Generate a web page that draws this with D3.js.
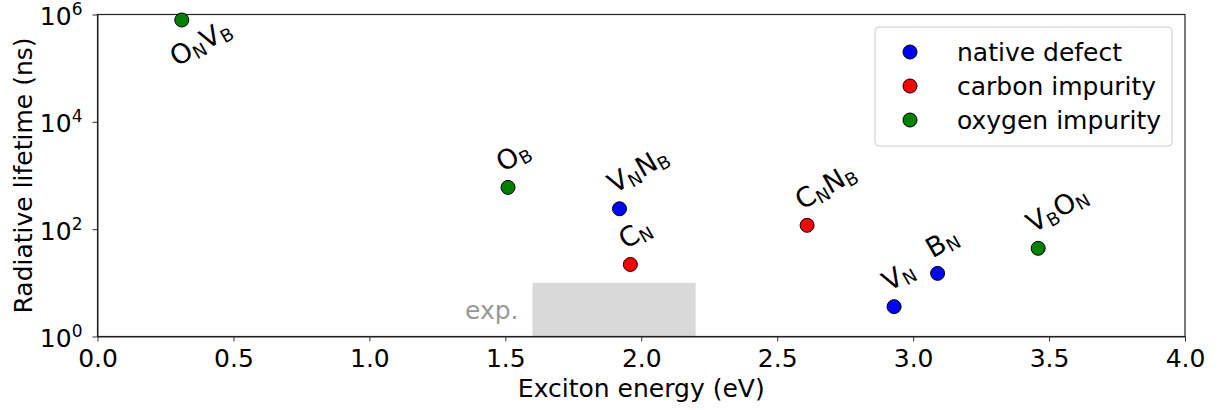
<!DOCTYPE html>
<html lang="en">
<head>
<meta charset="UTF-8">
<title>Radiative lifetime</title>
<script src="https://cdn.jsdelivr.net/npm/d3@7"></script>
<style>
  body { margin: 0; background: #fff; }
  text { font-family: "DejaVu Sans", sans-serif; }
</style>
</head>
<body>
<div id="chart"></div>
<script>
    const width = 1221
    const height = 410
    const margin = { top: 14.5, right: 36, bottom: 73.5, left: 97.5 }

    // defect data
    const defectLabels = [
        [['O', 'N'], ['V', 'B']],
        [['O', 'B']],
        [['V', 'N'], ['N', 'B']],
        [['C', 'N']],
        [['C', 'N'], ['N', 'B']],
        [['V', 'N']],
        [['B', 'N']],
        [['V', 'B'], ['O', 'N']]
    ]
    const excitonEnergy = [0.31, 1.51, 1.92, 1.96, 2.61, 2.93, 3.09, 3.46]
    const lifetime = [7.9e5, 600, 240, 22, 118, 3.6, 15, 44]
    const defectType = ['oxygen', 'oxygen', 'native', 'carbon', 'carbon', 'native', 'native', 'oxygen']

    const typeKeys = ['native', 'carbon', 'oxygen']
    const typeNames = ['native defect', 'carbon impurity', 'oxygen impurity']
    const typeColors = ['#0000ff', '#ff0000', '#008000']

    // experimental window
    const expEnergy = [1.6, 2.2]
    const expLifetime = [1, 10]

    const xTicks = [0, 0.5, 1, 1.5, 2, 2.5, 3, 3.5, 4]
    const yTicks = [1, 100, 1e4, 1e6]

    const innerW = width - margin.left - margin.right
    const innerH = height - margin.top - margin.bottom

    const x = d3.scaleLinear().domain([0, 4]).range([0, innerW])
    const y = d3.scaleLog().domain([1, 1e6]).range([innerH, 0])
    const color = d3.scaleOrdinal().domain(typeKeys).range(typeColors)

    const svg = d3.select('#chart').append('svg')
        .attr('width', width)
        .attr('height', height)

    const g = svg.append('g')
        .attr('transform', `translate(${margin.left}, ${margin.top})`)

    // exp. band
    g.append('rect')
        .attr('x', x(expEnergy[0]))
        .attr('width', x(expEnergy[1]) - x(expEnergy[0]))
        .attr('y', y(expLifetime[1]))
        .attr('height', y(expLifetime[0]) - y(expLifetime[1]))
        .attr('fill', '#d9d9d9')

    g.append('text')
        .attr('x', x(expEnergy[0]) - 14)
        .attr('y', (y(expLifetime[0]) + y(expLifetime[1])) / 2 + 9)
        .attr('text-anchor', 'end')
        .attr('font-size', '25px')
        .attr('fill', '#999')
        .text('exp.')

    // axes
    const xAxis = d3.axisBottom(x).tickValues(xTicks)
        .tickFormat(d3.format('.1f')).tickSize(5).tickSizeOuter(0)
    const yAxis = d3.axisLeft(y).tickValues(yTicks).tickSize(5).tickSizeOuter(0)

    const gx = g.append('g')
        .attr('transform', `translate(0, ${innerH})`)
        .call(xAxis)
    gx.selectAll('text').attr('font-size', '25px').attr('fill', '#000').attr('y', 12).attr('dy', '0.72em')

    const gy = g.append('g').call(yAxis)
    gy.selectAll('.tick text').remove()
    gy.selectAll('.tick').each(function (d) {
        const t = d3.select(this).append('text')
            .attr('x', -15)
            .attr('dy', '0.4em')
            .attr('text-anchor', 'end')
            .attr('font-size', '25px')
            .attr('fill', '#000')
        t.append('tspan').text('10')
        t.append('tspan')
            .attr('font-size', '17px')
            .attr('dy', '-10')
            .text(Math.round(Math.log10(d)))
    })

    g.selectAll('.domain').attr('stroke', '#333')
    g.selectAll('.tick line').attr('stroke', '#333')

    // frame
    g.append('rect')
        .attr('width', innerW)
        .attr('height', innerH)
        .attr('fill', 'none')
        .attr('stroke', '#222')
        .attr('stroke-width', 1.2)

    // axis labels
    svg.append('text')
        .attr('x', margin.left + innerW / 2)
        .attr('y', 397)
        .attr('text-anchor', 'middle')
        .attr('font-size', '25px')
        .text('Exciton energy (eV)')

    svg.append('text')
        .attr('transform', `translate(32, ${margin.top + innerH / 2}) rotate(-90)`)
        .attr('text-anchor', 'middle')
        .attr('font-size', '25px')
        .text('Radiative lifetime (ns)')

    // points
    const defects = excitonEnergy.map((e, i) => ({
        e, t: lifetime[i], type: defectType[i], label: defectLabels[i]
    }))

    g.selectAll('.pt').data(defects).enter().append('circle')
        .attr('class', 'pt')
        .attr('cx', d => x(d.e))
        .attr('cy', d => y(d.t))
        .attr('r', 7)
        .attr('fill', d => color(d.type))
        .attr('stroke', '#000')
        .attr('stroke-width', 1)

    // labels, rotated 30 degrees; the one at the very top goes below its point
    const lbl = g.selectAll('.lbl').data(defects).enter().append('g')
        .attr('class', 'lbl')
        .attr('transform', d => {
            const px = x(d.e) - 5
            const py = y(d.t) > 40 ? y(d.t) - 15 : y(d.t) + 47
            return `translate(${px}, ${py}) rotate(-30)`
        })

    lbl.append('text')
        .attr('font-size', '27px')
        .each(function (d) {
            const t = d3.select(this)
            d.label.forEach((p, i) => {
                t.append('tspan').attr('dy', i === 0 ? 0 : -4).text(p[0])
                t.append('tspan').attr('font-size', '18px').attr('dy', 4).text(p[1])
            })
        })

    // legend
    const lg = svg.append('g').attr('transform', 'translate(875, 27)')
    lg.append('rect')
        .attr('width', 297)
        .attr('height', 119)
        .attr('rx', 4)
        .attr('fill', '#fff')
        .attr('fill-opacity', 0.8)
        .attr('stroke', '#ccc')

    typeKeys.forEach((k, i) => {
        const row = lg.append('g').attr('transform', `translate(0, ${25 + i * 34})`)
        row.append('circle')
            .attr('cx', 35).attr('r', 7)
            .attr('fill', typeColors[i])
            .attr('stroke', '#000')
        row.append('text')
            .attr('x', 82).attr('dy', '0.35em')
            .attr('font-size', '25px')
            .text(typeNames[i])
    })
</script>
</body>
</html>
